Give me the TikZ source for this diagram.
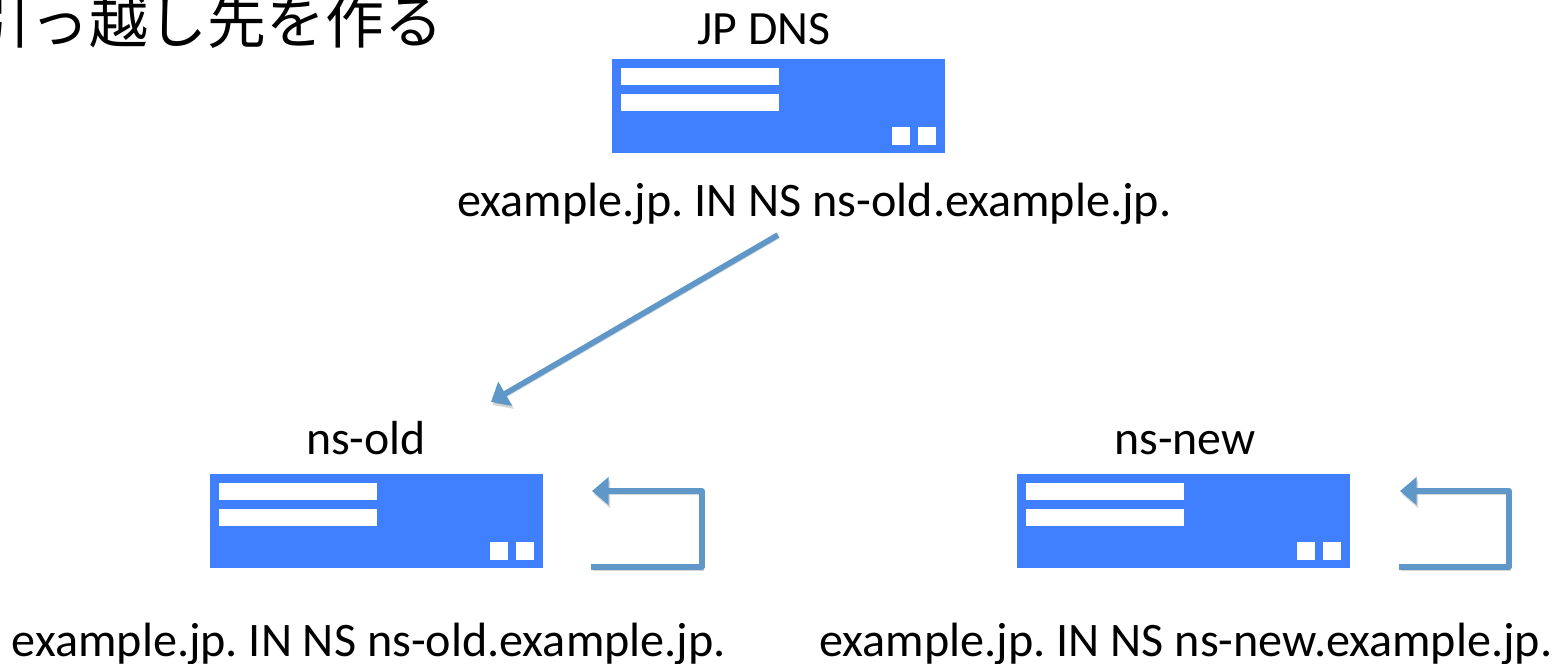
\documentclass[tikz,border=0pt]{standalone}
\usepackage{fontspec}
\setmainfont{Carlito}
\newfontfamily\cjk{Noto Sans CJK JP}
\usetikzlibrary{positioning,arrows.meta}
\definecolor{serverblue}{HTML}{4080FF}
\definecolor{flowblue}{HTML}{5F97C9}
\tikzset{
  server/.style={fill=serverblue, minimum width=6.66cm, minimum height=1.88cm},
  slot/.style={fill=white, minimum width=3.16cm, minimum height=0.34cm},
  lamp/.style={fill=white, minimum size=0.36cm},
  hostname/.style={font=\fontsize{27.2}{32}\selectfont\frenchspacing, anchor=base},
  record/.style={font=\fontsize{27.4}{32}\selectfont\frenchspacing, anchor=base},
  flow/.style={draw=flowblue, line width=0.115cm, line join=round,
    -{Triangle[length=0.33cm, width=0.54cm]},
    preaction={draw=black!45, opacity=0.35, transform canvas={shift={(0.03cm,-0.06cm)}}}}
}
\begin{document}
\begin{tikzpicture}[x=0.02cm, y=-0.02cm, inner sep=0pt, outer sep=0pt]
    \useasboundingbox (0,0) rectangle (1558,663);
    % NODES
    % title
    \node[font=\fontsize{33.5}{38}\selectfont\cjk, anchor=base east] (title) at (443,43) {引っ越し先を作る};
    % servers
    \node[server] (J) at (778.5,106) {};
    \node[server] (O) at (376.5,521) {};
    \node[server] (N) at (1183.5,521) {};
    % slots and lamps of each server
    \foreach \s in {J,O,N} {
      \node[slot, below right = 0.17cm and 0.17cm of \s.north west] (\s-slot1) {};
      \node[slot, below = 0.18cm of \s-slot1] (\s-slot2) {};
      \node[lamp, above left = 0.16cm and 0.18cm of \s.south east] (\s-lamp2) {};
      \node[lamp, left = 0.16cm of \s-lamp2] (\s-lamp1) {};
    }
    % server names
    \node[hostname] (Jname) at (764,44) {JP DNS};
    \node[hostname] (Oname) at (366,454.5) {ns-old};
    \node[hostname] (Nname) at (1185,454.5) {ns-new};
    % records
    \node[record] (Jrec) at (814.5,216) {example.jp. IN NS ns-old.example.jp.};
    \node[record] (Orec) at (369,656.5) {example.jp. IN NS ns-old.example.jp.};
    \node[record] (Nrec) at (1186,656.5) {example.jp. IN NS ns-new.example.jp.};

    % ARROWS
    \coordinate (deleg) at (778,235);
    \coordinate (oldhost) at (491,402);
    \draw[flow] (deleg)--(oldhost);
    % loop beside ns-old
    \coordinate (Oin) at (591,567);
    \coordinate (Oc1) at (702,567);
    \coordinate (Oc2) at (702,491);
    \coordinate (Oout) at (592,491);
    \draw[flow] (Oin)--(Oc1)--(Oc2)--(Oout);
    % loop beside ns-new
    \coordinate (Nin) at (1399,567);
    \coordinate (Nc1) at (1509,567);
    \coordinate (Nc2) at (1509,491);
    \coordinate (Nout) at (1400,491);
    \draw[flow] (Nin)--(Nc1)--(Nc2)--(Nout);
  \end{tikzpicture}
\end{document}
